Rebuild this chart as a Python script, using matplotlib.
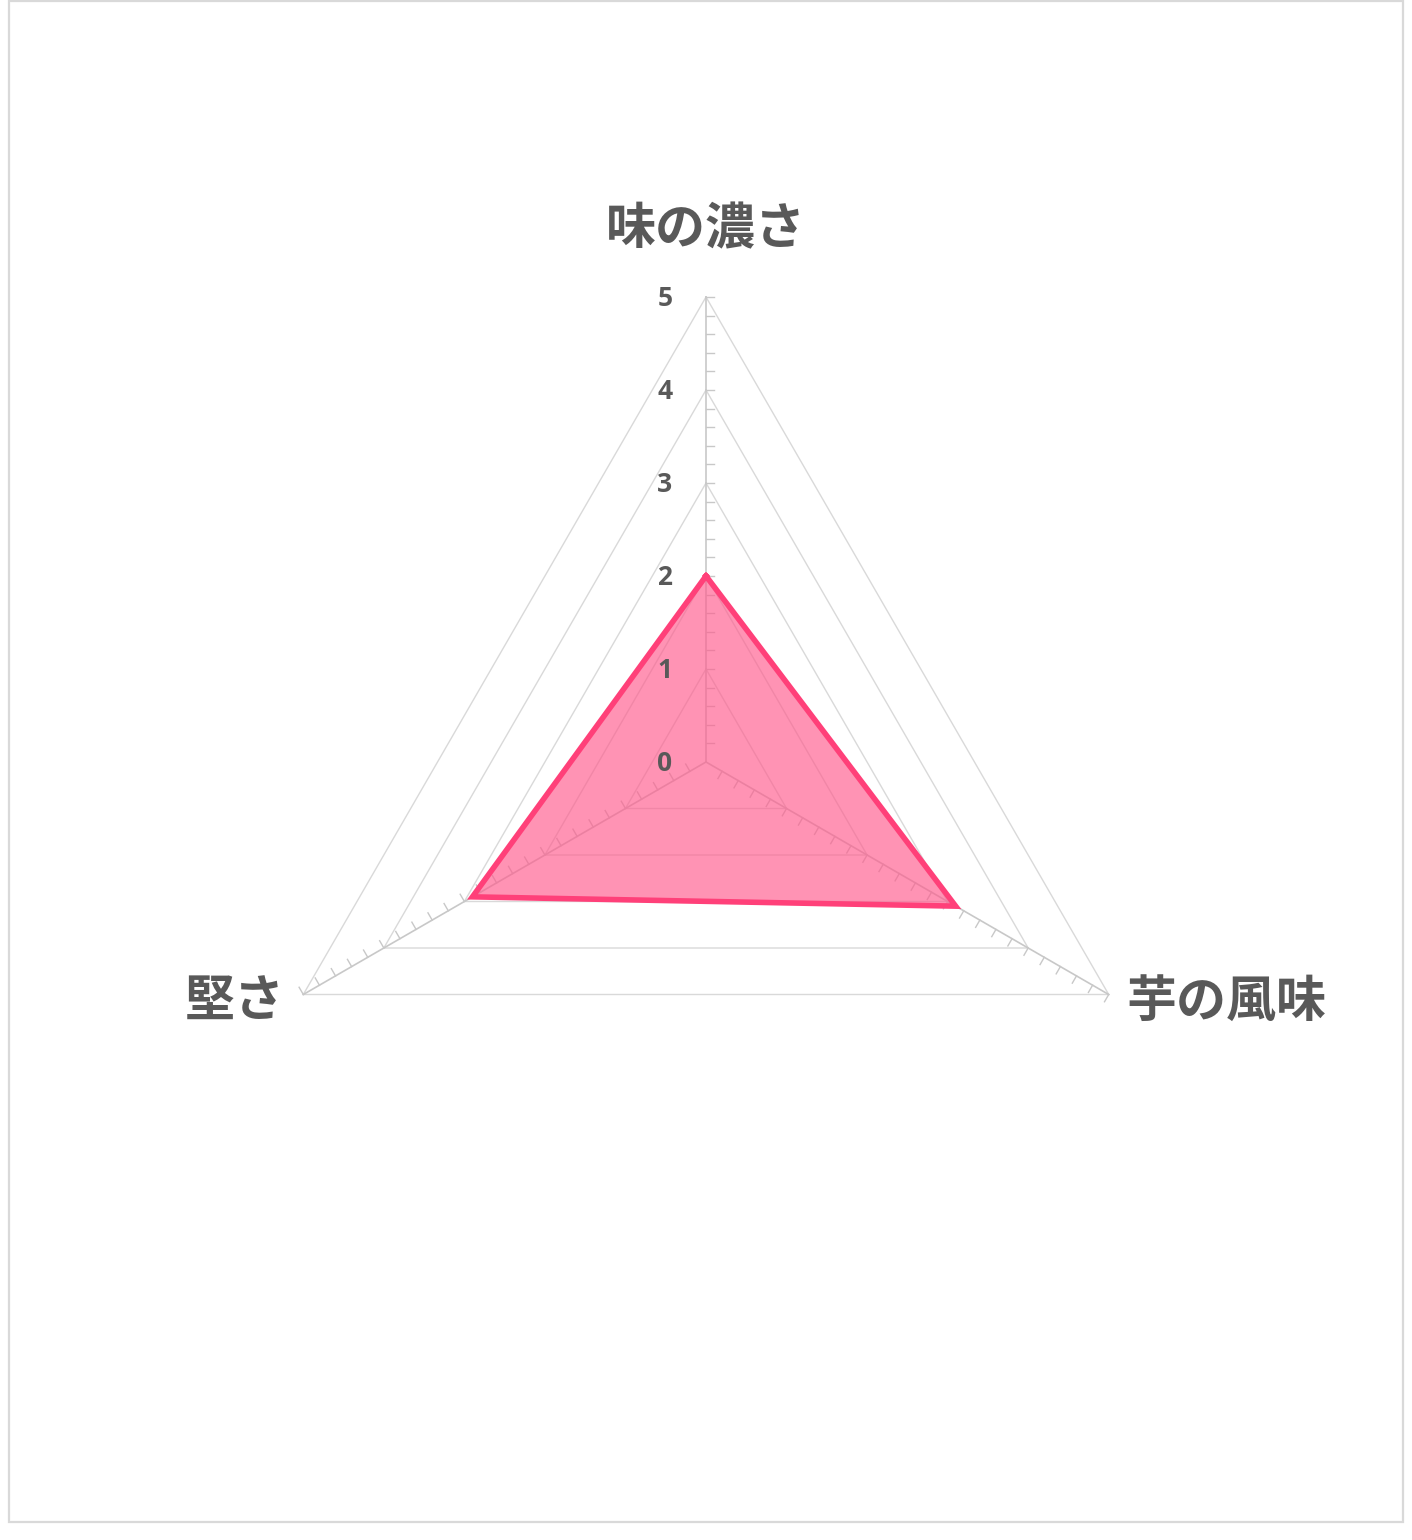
import numpy as np
import matplotlib
matplotlib.use("Agg")
import matplotlib.pyplot as plt
from matplotlib.patches import Rectangle

plt.rcParams['font.family'] = ['Noto Sans CJK JP', 'DejaVu Sans']

categories = ["味の濃さ", "芋の風味", "堅さ"]
values = [2.0, 3.1, 2.9]
rTicks = [0, 1, 2, 3, 4, 5]
rMax = 5

textColor = "#595959"
gridColor = "#D9D9D9"
lineColor = "#FF4079"
fillColor = "#FF5A8C"

# angles: top, then clockwise
angles = np.deg2rad(90 - 120 * np.arange(len(categories)))
ux, uy = np.cos(angles), np.sin(angles)

fig = plt.figure(figsize=(14.12, 15.4), dpi=100)
ax = fig.add_axes([0, 0, 1, 1])
scale = 93.0
ax.set_xlim(-706 / scale, 706 / scale)
ax.set_ylim(-(1540 - 762) / scale, 762 / scale)
ax.set_aspect("equal")
ax.axis("off")

# border
fig.patches.append(Rectangle((9 / 1412, 18 / 1540), 1394 / 1412, 1521 / 1540,
                             transform=fig.transFigure, fill=False,
                             edgecolor=gridColor, linewidth=1.6))

# triangular grid
for r in rTicks[1:]:
    gx = np.append(ux * r, ux[0] * r)
    gy = np.append(uy * r, uy[0] * r)
    ax.plot(gx, gy, color=gridColor, linewidth=1.0, zorder=1)

# spokes and minor ticks
tickLen = 0.09
for i in range(len(categories)):
    ax.plot([0, ux[i] * rMax], [0, uy[i] * rMax], color="#C8C8C8", linewidth=1.2, zorder=1)
    # tick direction: rotate spoke by -90 deg
    tx, ty = np.cos(angles[i] - np.pi / 2), np.sin(angles[i] - np.pi / 2)
    for t in np.arange(0.2, rMax + 0.01, 0.2):
        px, py = ux[i] * t, uy[i] * t
        ax.plot([px, px + tx * tickLen], [py, py + ty * tickLen],
                color="#C8C8C8", linewidth=1.0, zorder=1)

# data polygon
dx = np.append(ux * np.array(values), ux[0] * values[0])
dy = np.append(uy * np.array(values), uy[0] * values[0])
ax.fill(dx, dy, color=fillColor, alpha=0.65, linewidth=0, zorder=2)
ax.plot(dx, dy, color=lineColor, linewidth=4, solid_joinstyle="miter", zorder=3)

# radial labels
for r in rTicks:
    ax.text(-0.36, r - 0.02, str(r), ha="right", va="center", fontsize=19,
            fontweight="bold", color=textColor, family=["Open Sans", "DejaVu Sans"], zorder=4)

# category labels
ax.text(0, rMax + 0.72, categories[0], ha="center", va="center", fontsize=36,
        fontweight="bold", color=textColor)
ax.text(ux[1] * rMax + 0.19, uy[1] * rMax - 0.08, categories[1], ha="left", va="center",
        fontsize=36, fontweight="bold", color=textColor)
ax.text(ux[2] * rMax - 0.2, uy[2] * rMax - 0.08, categories[2], ha="right", va="center",
        fontsize=36, fontweight="bold", color=textColor)

fig.savefig("out.png", dpi=100)
